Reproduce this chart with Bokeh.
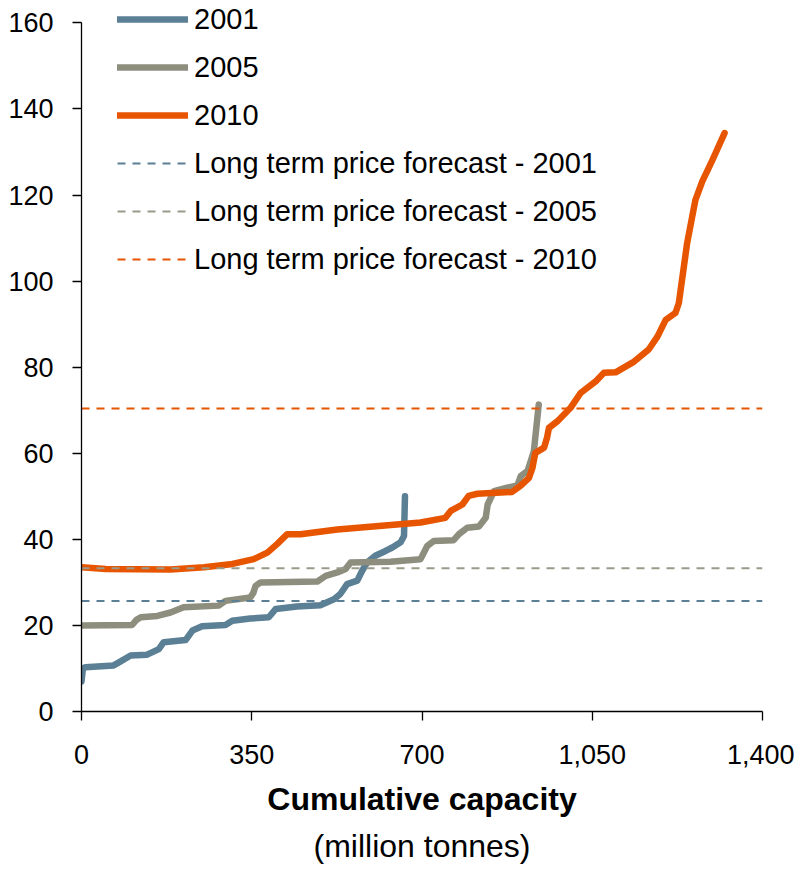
from bokeh.plotting import figure
from bokeh.models import Range1d, FixedTicker, NumeralTickFormatter, Legend, LegendItem, Title
from bokeh.embed import file_html
from bokeh.resources import INLINE

# ---- data ----
x_2001 = [0, 3, 8, 66, 77, 101, 135, 159, 169, 214, 228, 248, 296, 310, 347, 385, 399,
          443, 491, 519, 532, 546, 567, 577, 587, 604, 625, 639, 656, 663, 665]
y_2001 = [7, 10, 10.3, 10.7, 11.4, 13.0, 13.2, 14.5, 16.1, 16.6, 18.8, 19.8, 20.1, 21.1,
          21.6, 21.9, 23.8, 24.4, 24.7, 26.1, 27.3, 29.6, 30.4, 32.7, 34.6, 36.2, 37.3,
          38.1, 39.3, 40.8, 50]

x_2005 = [0, 104, 113, 122, 156, 183, 210, 282, 296, 347, 353, 358, 368, 485, 502, 526,
          543, 553, 635, 697, 711, 724, 765, 776, 793, 817, 831, 835, 848, 875, 896, 903,
          917, 930, 940]
y_2005 = [20, 20.1, 21.3, 21.9, 22.2, 23.0, 24.2, 24.6, 25.7, 26.5, 27.5, 29.2, 30, 30.2,
          31.5, 32.3, 33.1, 34.6, 34.8, 35.4, 38.5, 39.6, 39.8, 41.2, 42.7, 43, 45, 48.1,
          51.2, 52, 52.5, 54.7, 55.9, 60.5, 71.3]

x_2010 = [0, 50, 183, 252, 306, 354, 382, 402, 423, 450, 526, 697, 748, 759, 783, 796, 814,
          885, 903, 920, 927, 933, 951, 957, 961, 978, 1005, 1026, 1057, 1074, 1098, 1136,
          1166, 1184, 1201, 1221, 1228, 1245, 1262, 1276, 1297, 1322]
y_2010 = [33.5, 33.1, 33.0, 33.5, 34.2, 35.4, 36.9, 38.9, 41.2, 41.2, 42.3, 43.9, 45.0,
          46.6, 48.1, 50.1, 50.6, 51.0, 52.5, 54.3, 56.6, 60.1, 61.3, 63.6, 65.9, 67.4,
          70.5, 74.0, 76.7, 78.7, 78.8, 81.3, 84.1, 87.1, 91.0, 92.6, 94.9, 108.8, 118.8,
          123.1, 128.1, 134.4]

forecast_years = ["2001", "2005", "2010"]
forecast_values = [25.7, 33.3, 70.4]

x_ticks = [0, 350, 700, 1050, 1400]
y_ticks = [0, 20, 40, 60, 80, 100, 120, 140, 160]
x_min, x_max = 0, 1400
y_min, y_max = 0, 160

series_colors = ["#5B7F95", "#8E8E7E", "#E85500"]
forecast_colors = ["#5B7F95", "#9A9A8A", "#E85500"]

FONT = "Liberation Sans"

# frame extends a little above the top tick so the legend is not clipped
p = figure(width=794, height=869, output_backend="svg", toolbar_location=None,
           x_range=Range1d(x_min, x_max), y_range=Range1d(y_min, 165.2),
           min_border_left=81, min_border_right=32, min_border_top=0, min_border_bottom=150)
p.outline_line_color = None
p.xgrid.visible = False
p.ygrid.visible = False

renderers = []
for xs, ys, c in zip([x_2001, x_2005, x_2010], [y_2001, y_2005, y_2010], series_colors):
    r = p.line(xs, ys, line_color=c, line_width=6.5, line_join="round", line_cap="round")
    renderers.append(r)

frenderers = []
for v, c in zip(forecast_values, forecast_colors):
    r = p.line([x_min, x_max], [v, v], line_color=c, line_width=2, line_dash="8 7")
    frenderers.append(r)

items = [LegendItem(label=y, renderers=[r]) for y, r in zip(forecast_years, renderers)]
items += [LegendItem(label="Long term price forecast - " + y, renderers=[r])
          for y, r in zip(forecast_years, frenderers)]
legend = Legend(items=items, location=(36, 428), padding=0, margin=0, spacing=0,
                label_height=48, glyph_height=48, glyph_width=71, label_standoff=6,
                label_text_font_size="29px", label_text_font=FONT, label_text_color="black",
                background_fill_alpha=0, border_line_alpha=0)
p.add_layout(legend)

for ax in (p.xaxis[0], p.yaxis[0]):
    ax.axis_line_color = "black"
    ax.axis_line_width = 1.3
    ax.major_tick_line_color = "black"
    ax.major_tick_line_width = 1.3
    ax.major_tick_in = 0
    ax.major_tick_out = 9
    ax.minor_tick_line_color = None
    ax.major_label_text_font = FONT
    ax.major_label_text_font_size = "27px"
    ax.major_label_text_color = "black"
    ax.major_label_standoff = 19

p.yaxis.bounds = (y_min, y_max)
p.xaxis.major_label_standoff = 24
p.xaxis.ticker = FixedTicker(ticks=x_ticks)
p.yaxis.ticker = FixedTicker(ticks=y_ticks)
p.xaxis.formatter = NumeralTickFormatter(format="0,0")

p.xaxis.axis_label = "Cumulative capacity"
p.xaxis.axis_label_text_font = FONT
p.xaxis.axis_label_text_font_size = "32px"
p.xaxis.axis_label_text_font_style = "bold"
p.xaxis.axis_label_text_color = "black"
p.xaxis.axis_label_standoff = 14

sub = Title(text="(million tonnes)", align="center", text_font=FONT,
            text_font_size="32px", text_font_style="normal", text_color="black",
            standoff=12)
p.add_layout(sub, "below")

open("out.html", "w").write(file_html(p, INLINE))
